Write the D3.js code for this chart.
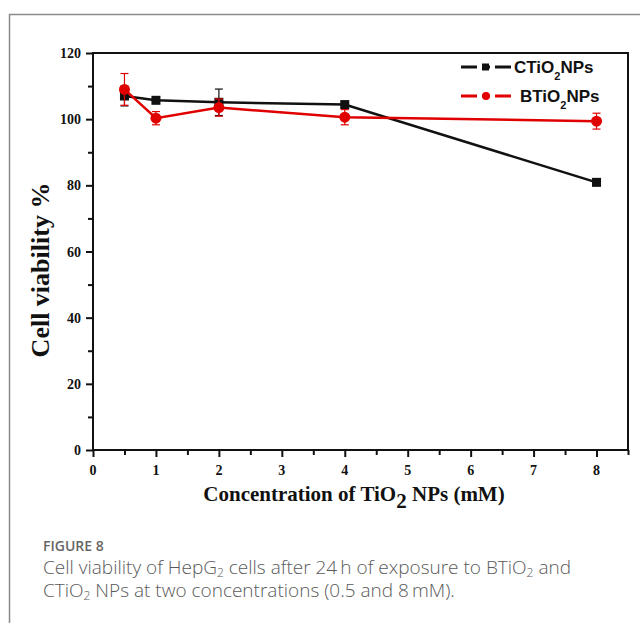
<!DOCTYPE html>
<html lang="en">
<head>
<meta charset="UTF-8">
<title>Cell viability</title>
<script src="https://cdnjs.cloudflare.com/ajax/libs/d3/7.8.5/d3.min.js"></script>
<style>
  body { margin: 0; background: #fff; }
</style>
</head>
<body>
<div id="chart"></div>
<script>
// data
var concentrations = [0.5, 1, 2, 4, 8];
var ctioValues = [107.0, 105.7, 105.1, 104.4, 80.9];
var ctioErrors = [3.0, 0.8, 4.0, 1.0, 0.8];
var btioValues = [109.0, 100.3, 103.5, 100.6, 99.4];
var btioErrors = [4.8, 2.0, 2.6, 2.3, 2.4];
var xTicks = [0, 1, 2, 3, 4, 5, 6, 7, 8];
var yTicks = [0, 20, 40, 60, 80, 100, 120];

var W = 640, H = 623;
var svg = d3.select("#chart").append("svg")
    .attr("width", W)
    .attr("height", H);

// outer figure box
svg.append("path")
    .attr("d", "M9.5,623 V14.5 H640")
    .style("fill", "none")
    .style("stroke", "#8a8a8a")
    .style("stroke-width", 1.5);

var mLeft = 93, mRight = 628, mTop = 53, mBottom = 450;

var x = d3.scaleLinear().domain([0, 8.5]).range([mLeft, mRight]);
var y = d3.scaleLinear().domain([0, 120]).range([mBottom, mTop]);

var serif = "'Liberation Serif', 'Times New Roman', serif";

// frame
svg.append("rect")
    .attr("x", mLeft).attr("y", mTop)
    .attr("width", mRight - mLeft).attr("height", mBottom - mTop)
    .style("fill", "none")
    .style("stroke", "#111")
    .style("stroke-width", 2);

// x axis
var xAxis = svg.append("g")
    .attr("transform", "translate(0," + mBottom + ")")
    .call(d3.axisBottom(x).tickValues(d3.range(0, 8.51, 0.5)).tickSize(6).tickFormat(""));
xAxis.select(".domain").remove();
xAxis.selectAll("line").style("stroke", "#111").style("stroke-width", 2)
    .attr("y2", function(d){ return d % 1 === 0 ? 7 : 5; });

svg.append("g").selectAll("text")
    .data(xTicks).enter().append("text")
    .attr("x", function(d){ return x(d); })
    .attr("y", mBottom + 25)
    .attr("text-anchor", "middle")
    .style("font-family", serif)
    .style("font-weight", "bold")
    .style("font-size", "14px")
    .style("fill", "#111")
    .text(function(d){ return d; });

// y axis
var yAxis = svg.append("g")
    .attr("transform", "translate(" + mLeft + ",0)")
    .call(d3.axisLeft(y).tickValues(d3.range(0, 121, 10)).tickSize(6).tickFormat(""));
yAxis.select(".domain").remove();
yAxis.selectAll("line").style("stroke", "#111").style("stroke-width", 2)
    .attr("x2", function(d){ return d % 20 === 0 ? -7 : -5; });

svg.append("g").selectAll("text")
    .data(yTicks).enter().append("text")
    .attr("x", mLeft - 12)
    .attr("y", function(d){ return y(d) + 5; })
    .attr("text-anchor", "end")
    .style("font-family", serif)
    .style("font-weight", "bold")
    .style("font-size", "14px")
    .style("fill", "#111")
    .text(function(d){ return d; });

// axis titles
var xt = svg.append("text")
    .attr("x", 354).attr("y", 501)
    .attr("text-anchor", "middle")
    .style("font-family", serif)
    .style("font-weight", "bold")
    .style("font-size", "21px")
    .style("fill", "#111");
xt.append("tspan").text("Concentration of TiO");
xt.append("tspan").attr("dy", 7).text("2");
xt.append("tspan").attr("dy", -7).text(" NPs (mM)");

svg.append("text")
    .attr("transform", "translate(49,270) rotate(-90)")
    .attr("text-anchor", "middle")
    .style("font-family", serif)
    .style("font-weight", "bold")
    .style("font-size", "26px")
    .style("fill", "#111")
    .text("Cell viability %");

// series
var series = [
  { name: "CTiO", color: "#111", values: ctioValues, errors: ctioErrors, shape: "square" },
  { name: "BTiO", color: "#e00000", values: btioValues, errors: btioErrors, shape: "circle" }
];

var line = d3.line()
    .x(function(d){ return x(d[0]); })
    .y(function(d){ return y(d[1]); });

series.forEach(function(s) {
    var pts = concentrations.map(function(c, i){ return [c, s.values[i], s.errors[i]]; });

    svg.append("path")
        .datum(pts)
        .attr("d", line)
        .style("fill", "none")
        .style("stroke", s.color)
        .style("stroke-width", 2.5);

    var eb = svg.append("g");
    pts.forEach(function(p) {
        var cx = x(p[0]);
        eb.append("line")
            .attr("x1", cx).attr("x2", cx)
            .attr("y1", y(p[1] - p[2])).attr("y2", y(p[1] + p[2]))
            .style("stroke", s.color).style("stroke-width", 1.2);
        [p[1] - p[2], p[1] + p[2]].forEach(function(v) {
            eb.append("line")
                .attr("x1", cx - 4).attr("x2", cx + 4)
                .attr("y1", y(v)).attr("y2", y(v))
                .style("stroke", s.color).style("stroke-width", 1.2);
        });
    });

    if (s.shape === "square") {
        svg.append("g").selectAll("rect")
            .data(pts).enter().append("rect")
            .attr("x", function(d){ return x(d[0]) - 4.5; })
            .attr("y", function(d){ return y(d[1]) - 4.5; })
            .attr("width", 9).attr("height", 9)
            .style("fill", s.color);
    } else {
        svg.append("g").selectAll("circle")
            .data(pts).enter().append("circle")
            .attr("cx", function(d){ return x(d[0]); })
            .attr("cy", function(d){ return y(d[1]); })
            .attr("r", 5.5)
            .style("fill", s.color);
    }
});

// legend
var legend = svg.append("g").attr("transform", "translate(461,0)");
series.forEach(function(s, i) {
    var ly = 67 + i * 29;
    var g = legend.append("g");
    g.append("line").attr("x1", 0).attr("x2", 50).attr("y1", ly).attr("y2", ly)
        .style("stroke", s.color).style("stroke-width", 3)
        .style("stroke-dasharray", "16,5,8,5,16");
    if (s.shape === "square") {
        g.append("rect").attr("x", 21).attr("y", ly - 3.5).attr("width", 7).attr("height", 7).style("fill", s.color);
    } else {
        g.append("circle").attr("cx", 25).attr("cy", ly).attr("r", 4).style("fill", s.color);
    }
    var t = g.append("text")
        .attr("x", i === 0 ? 53 : 59).attr("y", ly + 6)
        .style("font-family", "'Liberation Sans', Arial, sans-serif")
        .style("font-weight", "bold")
        .style("font-size", "17px")
        .style("fill", "#111");
    t.append("tspan").text(s.name);
    t.append("tspan").attr("dy", 7).style("font-size", "11px").text("2");
    t.append("tspan").attr("dy", -7).text("NPs");
});

// caption
var cap = svg.append("g").style("font-family", "'Open Sans', Lato, sans-serif").style("fill", "#5a5a5a");
cap.append("text").attr("x", 43).attr("y", 551)
    .style("font-size", "14px").style("font-weight", 600).style("fill", "#666")
    .text("FIGURE 8");
var c1 = cap.append("text").attr("x", 43).attr("y", 574).style("font-size", "19px").style("font-weight", 300);
c1.append("tspan").text("Cell viability of HepG");
c1.append("tspan").attr("dy", 3).style("font-size", "12px").text("2");
c1.append("tspan").attr("dy", -3).text(" cells after 24\u2009h of exposure to BTiO");
c1.append("tspan").attr("dy", 3).style("font-size", "12px").text("2");
c1.append("tspan").attr("dy", -3).text(" and");
var c2 = cap.append("text").attr("x", 43).attr("y", 597).style("font-size", "19px").style("font-weight", 300);
c2.append("tspan").text("CTiO");
c2.append("tspan").attr("dy", 3).style("font-size", "12px").text("2");
c2.append("tspan").attr("dy", -3).text(" NPs at two concentrations (0.5 and 8\u2009mM).");
</script>
</body>
</html>
